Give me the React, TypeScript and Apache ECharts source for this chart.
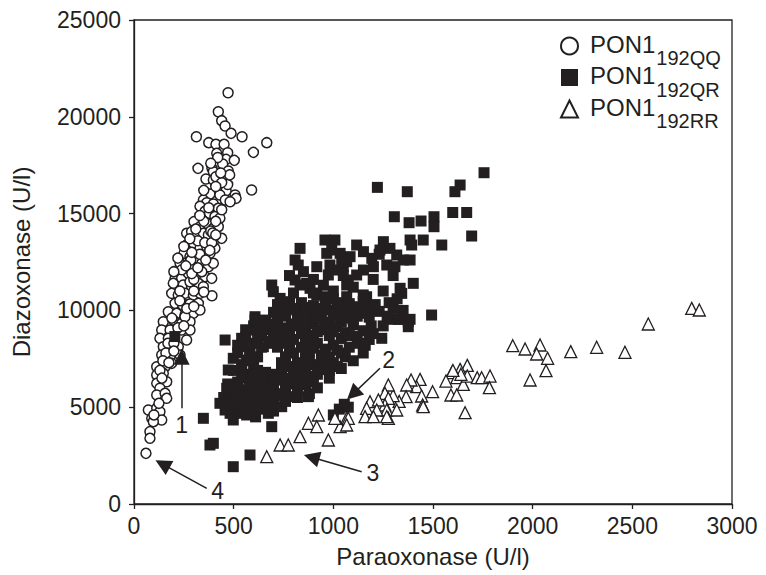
import React, { useEffect, useRef } from "react";
import * as echarts from "echarts";

const FONT = "'Liberation Sans', Arial, Helvetica, sans-serif";
const INK = "#231f20";

const seriesNames = ["PON1 192QQ", "PON1 192QR", "PON1 192RR"];

// PON1 192QQ (open circles)
const qqData: number[][] = [
  [472, 21245], [423, 20263], [440, 19800], [457, 19524], [487, 19146], [542, 18972], [313, 18972],
  [666, 18663], [599, 18163], [375, 18663], [411, 18578], [452, 18578], [415, 18113], [470, 18146],
  [462, 17800], [503, 17750], [445, 17560], [321, 17337], [391, 17337], [398, 17163], [473, 17200],
  [361, 16786], [398, 16734], [411, 16906], [590, 16218], [423, 16218], [462, 16182], [507, 15960],
  [512, 15789], [381, 16011], [431, 15960], [458, 15702], [482, 15613], [348, 15702], [365, 15562],
  [398, 15495], [423, 15273], [331, 15376], [356, 15118], [340, 14757], [378, 15015], [406, 14843],
  [431, 14757], [301, 14584], [331, 14325], [365, 14498], [398, 14239], [423, 14325], [264, 13981],
  [289, 14067], [315, 13808], [348, 13981], [373, 13894], [415, 13722], [440, 13722], [264, 13377],
  [298, 13464], [331, 13205], [365, 13291], [406, 13205], [251, 12948], [281, 12775], [315, 12689],
  [348, 12809], [381, 12948], [231, 12432], [272, 12344], [298, 12257], [340, 12432], [373, 12257],
  [398, 12432], [206, 11656], [239, 11656], [272, 11915], [315, 11828], [356, 11742], [390, 11656],
  [214, 11224], [247, 11311], [289, 11224], [331, 11311], [214, 10707], [264, 10794], [197, 11399],
  [281, 11482], [323, 11399], [348, 11224], [189, 10880], [222, 10794], [256, 10880], [298, 10794],
  [331, 10880], [391, 10758], [206, 10363], [244, 10278], [281, 10330], [323, 10363], [172, 9932],
  [214, 9849], [256, 9761], [298, 9849], [331, 10020], [147, 9416], [197, 9504], [239, 9333],
  [281, 9416], [256, 9674], [139, 8987], [181, 8987], [239, 8987], [281, 8987], [130, 8558],
  [172, 8558], [264, 8470], [147, 8125], [181, 8040], [222, 8125], [139, 7696], [181, 7608],
  [231, 7696], [114, 7091], [156, 7091], [189, 7264], [114, 6663], [147, 6749], [114, 6234],
  [164, 6317], [130, 5976], [114, 5630], [156, 5717], [164, 5459], [72, 4855], [114, 4943],
  [130, 4769], [89, 4425], [139, 4340], [97, 4252], [80, 3737], [80, 3393], [60, 2617],
  [350, 14600], [385, 14100], [320, 13600], [355, 13500], [390, 13500], [285, 12600], [330, 12900],
  [360, 12600], [240, 12100], [300, 11600], [340, 12000], [230, 11000], [300, 11000], [350, 10950],
  [265, 10100], [230, 10500], [300, 10200], [190, 9600], [220, 9100], [250, 9200], [170, 8300],
  [200, 8300], [160, 7800], [200, 7900], [145, 7400], [175, 7300], [130, 6900], [140, 6500],
  [125, 5200], [100, 4600], [395, 14000], [410, 14600], [375, 15300], [440, 15200], [470, 16500],
  [440, 16600], [480, 17000], [420, 17900], [385, 17600], [435, 17100], [410, 16400], [350, 16200],
  [310, 14200], [280, 13700], [250, 13300], [220, 12700], [260, 12300], [290, 11900], [320, 12200],
  [200, 12000], [380, 13100], [410, 13900], [330, 14900], [290, 13000]
];

// PON1 192QR (filled squares)
const qrData: number[][] = [
  [1756, 17112], [1636, 16476], [1610, 16131], [1221, 16355], [1371, 16131], [1599, 15058], [1669, 15058],
  [1306, 14839], [1380, 14530], [1440, 14617], [1505, 14839], [1505, 14323], [1694, 13842], [1544, 13377],
  [1385, 13636], [1451, 13636], [1393, 13377], [1251, 13550], [1284, 13205], [1234, 13119], [1193, 12689],
  [1117, 13377], [1151, 13033], [1084, 12775], [1042, 12603], [1318, 12861], [1351, 12603], [1385, 12603],
  [1201, 12257], [1268, 12344], [1309, 12257], [1151, 12086], [1117, 11828], [1075, 11570], [1401, 11398],
  [1335, 11141], [1343, 10880], [1167, 10707], [1201, 10191], [1067, 10707], [1100, 10191], [1134, 9849],
  [1067, 9849], [1284, 9539], [1335, 9539], [1385, 9539], [1493, 9761], [1326, 9539], [1376, 9416],
  [1376, 9158], [1243, 8558],
  [833, 13205], [808, 12603], [824, 12344], [917, 12257], [958, 13636], [1008, 13636], [992, 13119],
  [1034, 12947], [967, 12947], [983, 12344], [1017, 12086], [975, 11828], [1050, 12257], [1067, 12516],
  [808, 11570], [833, 11311], [866, 11398], [883, 11141], [917, 10794], [958, 10707], [691, 11311],
  [699, 10965], [733, 10621], [741, 10278], [766, 10105], [607, 9674], [816, 10020], [850, 9849],
  [883, 10020], [925, 9849], [983, 10020], [1017, 9849], [1067, 10020], [1067, 11311],
  [457, 8470], [540, 8558], [607, 9504], [649, 9333], [607, 8987], [498, 7526], [473, 6921],
  [548, 8125], [582, 7784], [565, 7437], [649, 8125], [691, 8299], [733, 8470], [465, 5976],
  [498, 5630], [431, 5201], [457, 4855], [482, 4684], [498, 4339], [548, 5888], [590, 6059],
  [624, 5717], [548, 5201], [582, 4943], [565, 4597], [523, 4684], [649, 5283], [682, 5459],
  [741, 5026], [674, 4684], [691, 3994], [799, 5545], [875, 5545], [348, 4426], [381, 3047],
  [398, 3135], [582, 2531], [498, 1927], [205, 8650],
  [1000, 4600], [1030, 4900], [1055, 5150], [1075, 5000],
  [720, 10300], [780, 10450], [840, 10400], [900, 10250], [960, 10500], [1020, 10400], [1080, 10350],
  [1150, 10450], [1210, 10300], [760, 9700], [820, 9600], [880, 9650], [940, 9550], [1000, 9700],
  [1060, 9600], [1120, 9700], [1180, 9650], [700, 9900], [1230, 9950],
  [600, 9200], [660, 9000], [700, 9300], [740, 9100], [780, 8800], [820, 9200], [860, 8900],
  [900, 9300], [940, 9000], [980, 8700], [1020, 9150], [1060, 8850], [1100, 9250], [1150, 8950],
  [1190, 9200], [640, 8700], [720, 8600], [800, 8500], [880, 8600], [960, 9400], [1040, 8550],
  [1120, 8650], [560, 9000], [1180, 8500], [1130, 8300],
  [520, 8200], [600, 8300], [720, 8100], [760, 8300], [800, 7800], [840, 8100], [880, 7900],
  [920, 8300], [960, 8000], [1000, 8200], [1040, 7800], [1080, 8100], [620, 7600], [760, 7600],
  [820, 7300], [860, 7600], [900, 7200], [950, 7500], [1000, 7300], [1060, 7600], [540, 7200],
  [600, 7100], [520, 7800],
  [500, 6900], [560, 6700], [620, 6900], [680, 6600], [740, 6900], [800, 6700], [860, 6900],
  [920, 6700], [520, 6300], [600, 6400], [660, 6200], [720, 6400], [780, 6200], [840, 6500],
  [900, 6300], [560, 5900], [640, 5800], [700, 6000], [760, 5800], [820, 5900],
  [450, 5500], [470, 6200], [520, 5500], [600, 5300], [640, 4900], [700, 5200], [610, 4500],
  [520, 5050], [600, 5600], [660, 5050], [720, 5600], [480, 5300],
  [780, 11800], [850, 12000], [900, 11600], [950, 11300], [1000, 11000], [1050, 11800], [1100, 11200],
  [1150, 10800], [1200, 11600], [1250, 11000], [1000, 10600], [900, 10900], [800, 10900], [1280, 10400],
  [1300, 11800], [1230, 12900],
  [560, 8600], [620, 8500], [680, 8400], [700, 8800], [760, 8700], [840, 8800], [900, 8700],
  [920, 8900], [1000, 8900], [1080, 8700], [660, 9500], [720, 9600], [790, 9300], [860, 9400],
  [920, 9600], [980, 9250], [1040, 9400], [1100, 9500], [740, 9900], [800, 10100], [860, 10150],
  [940, 10100], [1040, 10150], [1110, 10000], [1160, 10150],
  [580, 7900], [640, 8100], [780, 8050], [860, 8300], [900, 8050], [940, 7700], [980, 7600],
  [1020, 7950], [740, 7300], [780, 7100], [840, 7050], [880, 7400], [960, 7200], [1020, 7100],
  [580, 7400], [540, 6950], [600, 6650], [660, 6800], [700, 6700], [760, 6500], [820, 6900],
  [880, 6600], [940, 6950], [980, 6900], [540, 6500], [640, 6450], [700, 6300], [760, 6100],
  [820, 6250], [860, 6150], [580, 6200], [620, 6100], [680, 5900], [740, 5700], [500, 6000],
  [540, 5600], [580, 5550], [660, 5500], [500, 5200], [560, 5100], [620, 5200], [680, 5300],
  [460, 5100], [530, 4900], [600, 4800], [700, 4800], [760, 5300], [820, 5500], [880, 5700],
  [920, 6000], [980, 6500], [1040, 7000], [1100, 7400], [1150, 7800], [1160, 8200], [1200, 8800],
  [1250, 9200], [1270, 9700], [1300, 10100], [1320, 10600], [1350, 10000]
];

// PON1 192RR (open triangles)
const rrData: number[][] = [
  [2798, 10105], [2836, 10020], [2580, 9297], [1900, 8176], [1962, 8006], [2037, 8212], [2020, 7748],
  [2075, 7526], [2067, 6885], [1987, 6405], [2191, 7870], [2321, 8093], [2463, 7835],
  [1672, 7162], [1636, 6955], [1594, 6783], [1565, 6350], [1619, 6525], [1652, 6180], [1672, 6610],
  [1722, 6525], [1744, 6525], [1786, 6610], [1783, 6010], [1590, 5630], [1619, 5630], [1661, 4715],
  [1498, 5802], [1640, 6700], [1600, 6900],
  [1435, 6437], [1418, 6059], [1390, 6405], [1368, 6146], [1365, 5544], [1443, 5578], [1448, 5113],
  [1451, 5026], [1330, 5300], [1300, 5600],
  [1276, 6146], [1259, 5717], [1276, 5459], [1259, 5113], [1268, 4855], [1276, 4426], [1318, 4855],
  [1184, 5283], [1226, 5372], [1167, 4943], [1218, 4855], [1268, 4512], [1159, 4512], [1201, 4512],
  [1067, 4426], [1034, 3994], [1008, 4426], [1075, 4426], [1067, 4080],
  [925, 4597], [875, 4168], [917, 3994], [975, 3306], [833, 3476], [733, 3047], [774, 3047], [666, 2443]
];

// annotation arrows: tail -> head (data coordinates), with their labels
const arrowLabels = ["1", "2", "3", "4"];
const arrowTails: number[][] = [[239, 4943], [1234, 7009], [1142, 1668], [365, 811]];
const arrowHeads: number[][] = [[239, 7603], [1098, 5676], [891, 2412], [143, 2061]];
const arrowLabelGaps = [5, 12, 5, 5];

const xAxisMax = 3000;
const xAxisStep = 500;
const yAxisMax = 25000;
const yAxisStep = 5000;

export default function App() {
  const ref = useRef<HTMLDivElement>(null);

  useEffect(() => {
    document.body.style.margin = "0";
    if (!ref.current) return;
    const chart = echarts.init(ref.current, undefined, { renderer: "svg" });

    const axisCommon = {
      axisLine: { show: true, lineStyle: { color: INK, width: 1.3 } },
      axisTick: { show: true, inside: false, length: 5, lineStyle: { color: INK, width: 1.3 } },
      splitLine: { show: false },
      nameLocation: "middle" as const,
      nameTextStyle: { color: INK, fontSize: 24, fontFamily: FONT },
    };
    const plain = (v: number) => String(v);

    const option: any = {
      animation: false,
      backgroundColor: "#ffffff",
      grid: {
        left: 134, right: 34, top: 20, bottom: 71,
        show: true, borderColor: INK, borderWidth: 1.3,
        containLabel: false, outerBoundsMode: "none",
      },
      legend: {
        data: seriesNames,
        orient: "vertical",
        left: 555,
        top: 19,
        itemWidth: 17,
        itemHeight: 17,
        itemGap: -12.5,
        selectedMode: false,
        formatter: (name: string) => {
          const parts = name.split(" ");
          return `{n|${parts[0]}}{s|${parts[1]}}`;
        },
        textStyle: {
          color: INK,
          fontFamily: FONT,
          rich: {
            n: { fontSize: 24, fontFamily: FONT, color: INK, lineHeight: 26, padding: [0, 0, 4, 7] },
            s: { fontSize: 20, fontFamily: FONT, color: INK, lineHeight: 26, padding: [24, 0, 0, 1] },
          },
        },
      },
      xAxis: {
        type: "value",
        min: 0,
        max: xAxisMax,
        interval: xAxisStep,
        name: "Paraoxonase (U/l)",
        nameGap: 40,
        ...axisCommon,
        axisLabel: { color: INK, fontSize: 23, fontFamily: FONT, margin: 10, formatter: plain },
      },
      yAxis: {
        type: "value",
        min: 0,
        max: yAxisMax,
        interval: yAxisStep,
        name: "Diazoxonase (U/l)",
        nameGap: 101,
        ...axisCommon,
        axisLabel: { color: INK, fontSize: 23, fontFamily: FONT, margin: 13, formatter: plain },
      },
      series: [
        {
          name: seriesNames[0],
          type: "scatter",
          symbol: "circle",
          symbolSize: 10,
          data: qqData,
          itemStyle: { color: "#ffffff", borderColor: INK, borderWidth: 1.5, opacity: 1 },
        },
        {
          name: seriesNames[1],
          type: "scatter",
          symbol: "rect",
          symbolSize: 11,
          data: qrData,
          itemStyle: { color: INK, opacity: 1 },
        },
        {
          name: seriesNames[2],
          type: "scatter",
          symbol: "triangle",
          symbolSize: 12,
          data: rrData,
          itemStyle: { color: "#ffffff", borderColor: INK, borderWidth: 1.3, opacity: 1 },
          markLine: {
            silent: true,
            animation: false,
            symbol: ["none", "triangle"],
            symbolSize: 16,
            itemStyle: { color: INK, borderColor: INK, borderWidth: 0, opacity: 1 },
            lineStyle: { color: INK, width: 1.5, type: "solid", opacity: 1 },
            label: {
              show: true,
              position: "start",
              formatter: "{b}",
              color: INK,
              fontSize: 23,
              fontFamily: FONT,
              distance: 5,
            },
            data: arrowLabels.map((lab, i) => [
              { name: lab, coord: arrowTails[i], label: { distance: arrowLabelGaps[i] } },
              { name: lab, coord: arrowHeads[i] },
            ]),
          },
        },
      ],
    };

    chart.setOption(option);
    return () => chart.dispose();
  }, []);

  return <div ref={ref} style={{ width: 766, height: 575 }} />;
}
